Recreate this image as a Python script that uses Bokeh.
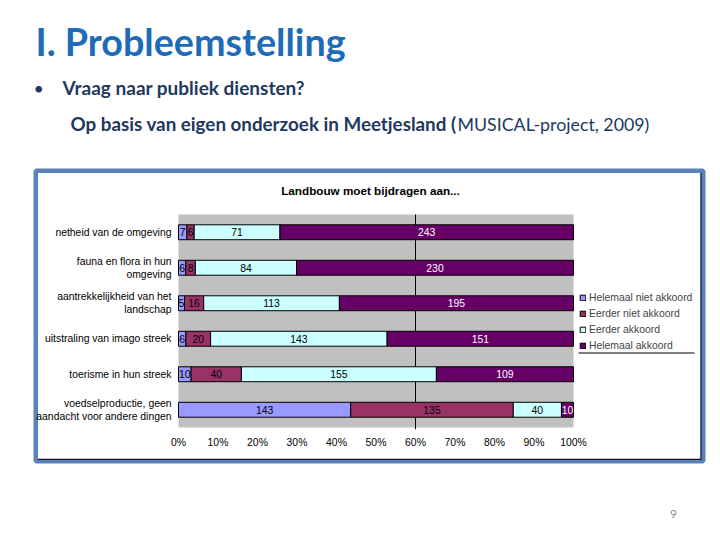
from bokeh.plotting import figure
from bokeh.models import (ColumnDataSource, Range1d, FixedTicker, Label, LinearAxis,
                          Legend, LegendItem)
from bokeh.core.properties import value
from bokeh.embed import file_html
from bokeh.resources import INLINE

# ---------------- data ----------------
categories = [
    "netheid van de omgeving",
    "fauna en flora in hun\nomgeving",
    "aantrekkelijkheid van het\nlandschap",
    "uitstraling van imago streek",
    "toerisme in hun streek",
    "voedselproductie, geen\naandacht voor andere dingen",
]
helemaal_niet_akkoord = [7, 6, 5, 6, 10, 143]
eerder_niet_akkoord = [6, 8, 16, 20, 40, 135]
eerder_akkoord = [71, 84, 113, 143, 155, 40]
helemaal_akkoord = [243, 230, 195, 151, 109, 10]
series_names = ["Helemaal niet akkoord", "Eerder niet akkoord", "Eerder akkoord", "Helemaal akkoord"]
series_colors = ["#9999FF", "#993366", "#CCFFFF", "#660066"]
label_colors = ["black", "black", "black", "white"]
x_ticks = [0.0, 0.1, 0.2, 0.3, 0.4, 0.5, 0.6, 0.7, 0.8, 0.9, 1.0]
x_tick_labels = ["0%", "10%", "20%", "30%", "40%", "50%", "60%", "70%", "80%", "90%", "100%"]
grid_at = [0.6]
chart_title = "Landbouw moet bijdragen aan..."
slide_title = "I. Probleemstelling"
bullet_text = "Vraag naar publiek diensten?"
sub_text_bold = "Op basis van eigen onderzoek in Meetjesland ("
sub_text_normal = "MUSICAL-project, 2009)"
slide_number = "9"

# ---------------- layout (canvas pixels) ----------------
W, H = 720, 540
PL, PR, PT, PB = 178, 573, 214, 427   # plot-area edges

series = [helemaal_niet_akkoord, eerder_niet_akkoord, eerder_akkoord, helemaal_akkoord]
n = len(categories)
ypos = [n - i - 0.5 for i in range(n)]
totals = [sum(s[i] for s in series) for i in range(n)]
keys = ["s0", "s1", "s2", "s3"]
data = {"y": ypos}
for k, s in zip(keys, series):
    data[k] = [v / t for v, t in zip(s, totals)]
source = ColumnDataSource(data)

lx, ly, lt, lc = [], [], [], []
for i in range(n):
    left = 0.0
    for j, s in enumerate(series):
        w = s[i] / totals[i]
        lx.append(left + w / 2)
        ly.append(ypos[i])
        lt.append(str(s[i]))
        lc.append(label_colors[j])
        left += w
label_source = ColumnDataSource(dict(x=lx, y=ly, t=lt, c=lc))

FONT = "Liberation Sans"
SLIDE_FONT = "Lato"

p = figure(width=W, height=H, output_backend="svg", toolbar_location=None,
           x_range=Range1d(0, W), y_range=Range1d(H, 0),
           x_axis_type=None, y_axis_type=None,
           min_border=0, min_border_left=0, min_border_right=0,
           min_border_top=0, min_border_bottom=0)
p.background_fill_color = "white"
p.border_fill_color = "white"
p.outline_line_color = None
p.grid.visible = False

# chart coordinate systems mapped onto the plot area
p.extra_x_ranges = {"pct": Range1d((0 - PL) / (PR - PL), (W - PL) / (PR - PL))}
p.extra_y_ranges = {"cat": Range1d(n * (PB - H) / (PB - PT), n * (PB - 0) / (PB - PT))}
XR, YR = "pct", "cat"

# chart box (blue frame with dark inner edge)
p.quad(left=[35.25], right=[702.75], top=[170.25], bottom=[460.75],
       fill_color="white", line_color="#5A82B8", line_width=4.5, level="underlay")
p.segment(x0=[700.4], y0=[172.5], x1=[700.4], y1=[459.0], line_color="#111133", line_width=1.2)
p.segment(x0=[37.5], y0=[458.9], x1=[700.9], y1=[458.9], line_color="#111133", line_width=1.2)

# plot area background
p.quad(left=[0], right=[1], bottom=[0], top=[n], fill_color="#C0C0C0", line_color=None,
       x_range_name=XR, y_range_name=YR)
# vertical gridline
p.segment(x0=grid_at, y0=[-0.05] * len(grid_at), x1=grid_at, y1=[n] * len(grid_at),
          line_color="black", line_width=1, x_range_name=XR, y_range_name=YR)

renderers = p.hbar_stack(keys, y="y", height=0.42, color=series_colors,
                         line_color="black", line_width=1, source=source,
                         x_range_name=XR, y_range_name=YR)

p.text(x="x", y="y", text="t", text_color="c", source=label_source,
       text_align="center", text_baseline="middle",
       text_font=value(FONT), text_font_size="10.4px",
       x_range_name=XR, y_range_name=YR)

# axes at the plot-area edges
xaxis = LinearAxis(x_range_name=XR, y_range_name=YR, fixed_location=0,
                   ticker=FixedTicker(ticks=x_ticks),
                   major_label_overrides={t: l for t, l in zip(x_ticks, x_tick_labels)})
yaxis = LinearAxis(x_range_name=XR, y_range_name=YR, fixed_location=0,
                   ticker=FixedTicker(ticks=ypos),
                   major_label_overrides={t: c for t, c in zip(ypos, categories)})
for ax in (xaxis, yaxis):
    ax.axis_line_color = None
    ax.major_tick_line_color = None
    ax.minor_tick_line_color = None
    ax.major_tick_out = 0
    ax.major_tick_in = 0
    ax.minor_tick_out = 0
    ax.major_label_text_font = FONT
    ax.major_label_text_font_size = "10.4px"
    ax.major_label_text_color = "black"
xaxis.major_label_standoff = 9
yaxis.major_label_standoff = 7
p.add_layout(xaxis, "below")
p.add_layout(yaxis, "left")

# legend
legend = Legend(items=[LegendItem(label=nm, renderers=[r]) for nm, r in zip(series_names, renderers)],
                location=(579, H - 351), glyph_width=7, glyph_height=7, label_standoff=3,
                spacing=4, padding=0, margin=0, border_line_color=None,
                background_fill_alpha=0, label_text_font=FONT, label_text_font_size="10.4px",
                label_height=12)
p.add_layout(legend)
p.segment(x0=[578], y0=[352.5], x1=[694], y1=[352.5], line_color="black", line_width=1.2)

# chart title
p.add_layout(Label(x=370, y=190, text=chart_title,
                   text_align="center", text_baseline="middle", text_font=FONT,
                   text_font_size="11.7px", text_font_style="bold", text_color="black"))

# slide texts
p.add_layout(Label(x=35, y=41, text=slide_title,
                   text_align="left", text_baseline="alphabetic", text_font=SLIDE_FONT,
                   text_font_size="37.7px", text_font_style="bold", text_color="#1E6BB8"))
p.add_layout(Label(x=33, y=87, text="\u2022",
                   text_align="left", text_baseline="alphabetic", text_font=SLIDE_FONT,
                   text_font_size="18px", text_color="#22385E"))
p.add_layout(Label(x=62, y=87, text=bullet_text,
                   text_align="left", text_baseline="alphabetic", text_font=SLIDE_FONT,
                   text_font_size="19px", text_font_style="bold", text_color="#22385E"))
p.add_layout(Label(x=456, y=123, text=sub_text_bold,
                   text_align="right", text_baseline="alphabetic", text_font=SLIDE_FONT,
                   text_font_size="18.8px", text_font_style="bold", text_color="#22385E"))
p.add_layout(Label(x=457, y=123, text=sub_text_normal,
                   text_align="left", text_baseline="alphabetic", text_font=SLIDE_FONT,
                   text_font_size="17.8px", text_color="#22385E"))
p.add_layout(Label(x=673, y=513, text=slide_number,
                   text_align="center", text_baseline="alphabetic", text_font=SLIDE_FONT,
                   text_font_size="12px", text_color="#8C8C8C"))

open("out.html", "w").write(file_html(p, INLINE))
